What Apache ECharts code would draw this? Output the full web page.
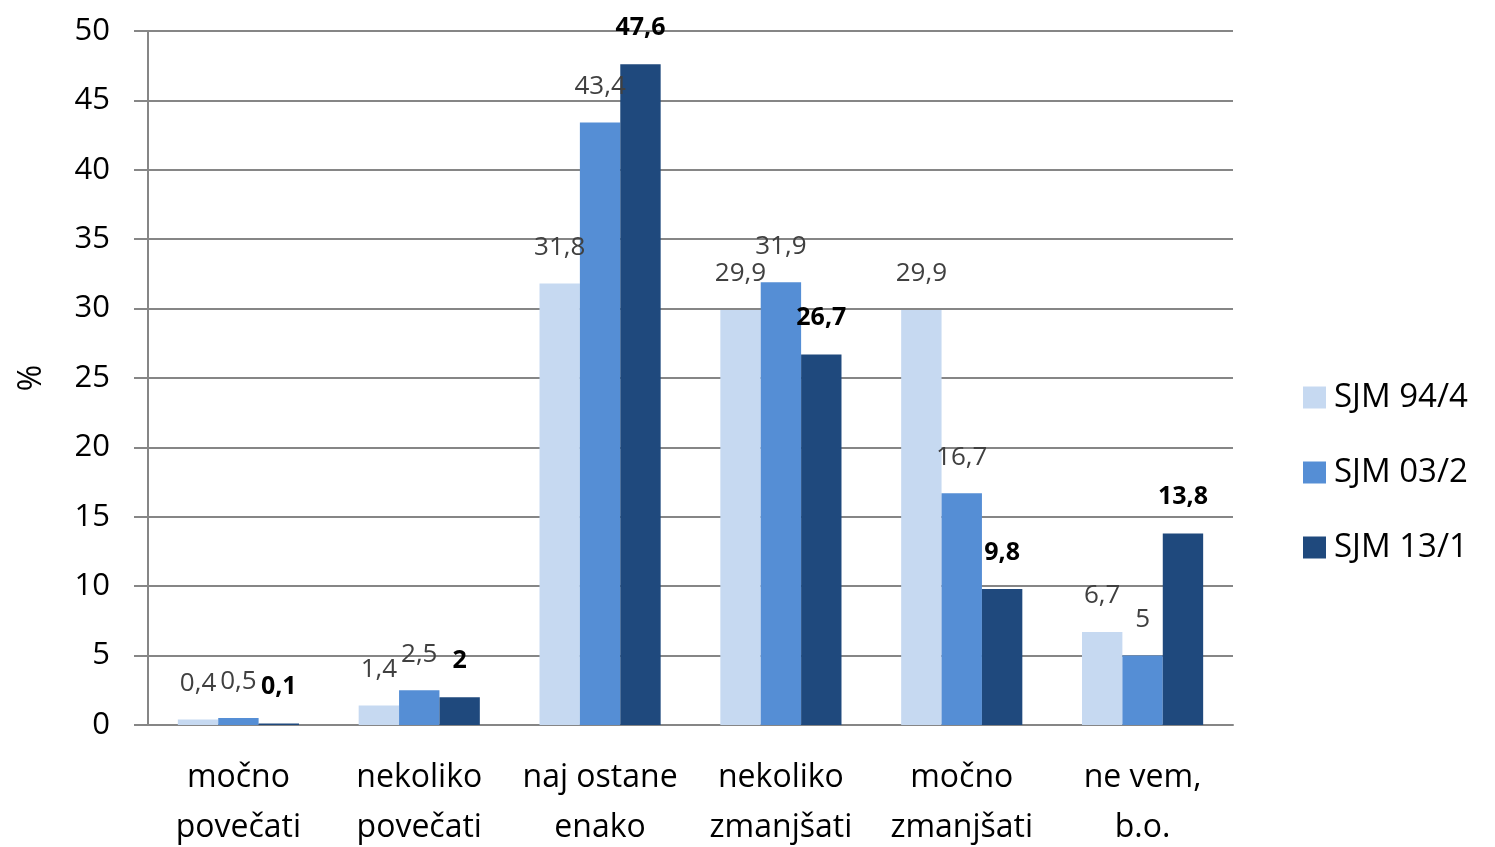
<!DOCTYPE html>
<html>
<head>
<meta charset="utf-8">
<script src="https://cdn.jsdelivr.net/npm/echarts@6/dist/echarts.min.js"></script>
<style>
  html, body { margin: 0; padding: 0; background: #fff; }
  #chart { width: 1495px; height: 847px; }
</style>
</head>
<body>
<div id="chart"></div>
<script>
// chart data
const categories = ["močno\npovečati", "nekoliko\npovečati", "naj ostane\nenako", "nekoliko\nzmanjšati", "močno\nzmanjšati", "ne vem,\nb.o."];
const seriesNames = ["SJM 94/4", "SJM 03/2", "SJM 13/1"];
const sjm94 = [0.4, 1.4, 31.8, 29.9, 29.9, 6.7];
const sjm03 = [0.5, 2.5, 43.4, 31.9, 16.7, 5];
const sjm13 = [0.1, 2, 47.6, 26.7, 9.8, 13.8];
const colors = ["#C6D9F1", "#558ED5", "#1F497D"];

const font = "'Open Sans', sans-serif";
const fmt = p => String(p.value).replace(".", ",");

function makeSeries(name, data, color, bold) {
    return {
        name: name,
        type: "bar",
        data: data,
        barGap: "0%",
        barCategoryGap: "33%",
        itemStyle: { color: color },
        label: {
            show: true,
            position: "top",
            distance: bold ? 24 : 23,
            formatter: fmt,
            fontFamily: font,
            fontSize: bold ? 25 : 26,
            fontWeight: bold ? "bold" : "normal",
            color: bold ? "#000" : "#404040"
        },
        animation: false
    };
}

const chart = echarts.init(document.getElementById("chart"));
chart.setOption({
    textStyle: { fontFamily: font },
    grid: { left: 148, right: 262, top: 31, bottom: 122, outerBoundsMode: "none" },
    legend: {
        orient: "vertical",
        left: 1298,
        top: 376,
        itemWidth: 23,
        itemHeight: 22,
        itemGap: 42,
        icon: "rect",
        data: seriesNames,
        textStyle: { fontFamily: font, fontSize: 33, color: "#000", padding: [0, 0, 0, 3] }
    },
    xAxis: {
        type: "category",
        data: categories,
        axisLine: { lineStyle: { color: "#868686", width: 2 } },
        axisTick: { show: false },
        axisLabel: {
            interval: 0,
            fontFamily: font,
            fontSize: 32,
            lineHeight: 50,
            color: "#000",
            margin: 28
        }
    },
    yAxis: {
        type: "value",
        min: 0,
        max: 50,
        interval: 5,
        name: "%",
        nameLocation: "middle",
        nameGap: 100,
        nameRotate: 90,
        nameTextStyle: { fontFamily: font, fontSize: 32, color: "#000" },
        axisLine: { show: true, lineStyle: { color: "#868686", width: 2 } },
        axisTick: { show: true, length: 14, lineStyle: { color: "#868686", width: 2 } },
        axisLabel: { fontFamily: font, fontSize: 31, color: "#000", margin: 38 },
        splitLine: { lineStyle: { color: "#868686", width: 2 } }
    },
    series: [
        makeSeries(seriesNames[0], sjm94, colors[0], false),
        makeSeries(seriesNames[1], sjm03, colors[1], false),
        makeSeries(seriesNames[2], sjm13, colors[2], true)
    ]
});
</script>
</body>
</html>
